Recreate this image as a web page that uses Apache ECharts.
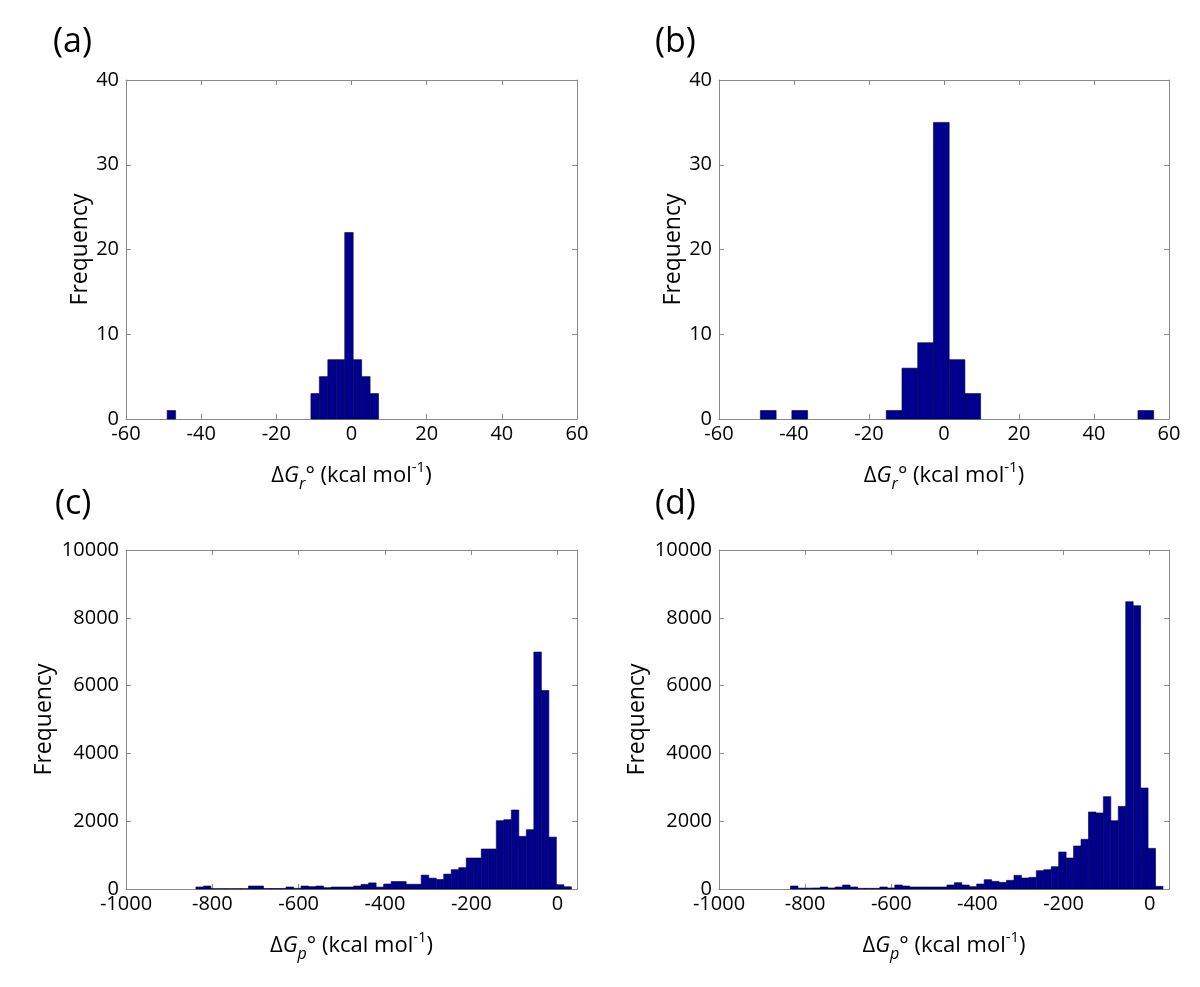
<!DOCTYPE html>
<html>
<head>
<meta charset="utf-8">
<script src="https://cdn.jsdelivr.net/npm/echarts@6/dist/echarts.min.js"></script>
<style>
html,body{margin:0;padding:0;background:#fff;}
#chart{width:1200px;height:987px;}
</style>
</head>
<body>
<div id="chart"></div>
<script>
// ---------- data ----------
// panel (a): ΔGr° histogram, 25 bins
const binStartA = -49.05, binWidthA = 2.25;
const countsA = [1,0,0,0,0,0,0,0,0,0,0,0,0,0,0,0,0,3,5,7,7,22,7,5,3];
// panel (b): ΔGr° histogram, 25 bins
const binStartB = -48.96, binWidthB = 4.195;
const countsB = [1,0,1,0,0,0,0,0,1,6,9,35,7,3,0,0,0,0,0,0,0,0,0,0,1];
// panel (c): ΔGp° histogram, 50 bins
const binStartC = -838, binWidthC = 17.4;
const countsC = [59,88,10,10,10,10,10,88,88,15,15,15,59,20,88,69,88,40,59,59,
                 59,88,137,180,55,147,220,220,140,140,410,320,280,440,570,630,914,914,1180,1180,
                 2015,2045,2330,1553,1750,6990,5858,1530,125,66];
// panel (d): ΔGp° histogram, 50 bins
const binStartD = -834, binWidthD = 17.3;
const countsD = [88,25,25,30,59,30,59,118,59,20,20,20,59,30,118,88,59,59,59,59,
                 59,118,186,118,69,147,275,226,196,255,403,324,344,540,570,658,1091,914,1268,1465,
                 2271,2242,2723,2015,2438,8475,8357,2979,1199,79];

const xTicksR = [-60,-40,-20,0,20,40,60];
const yTicksR = [0,10,20,30,40];
const xTicksP = [-1000,-800,-600,-400,-200,0];
const yTicksP = [0,2000,4000,6000,8000,10000];
const panelLabels = ['(a)','(b)','(c)','(d)'];
const yName = 'Frequency';

// ---------- styling ----------
const FONT = '"Open Sans", "DejaVu Sans", sans-serif';
const AXIS_GRAY = '#8a8a8a';
const BAR_FILL = '#00008f';
const BAR_EDGE = '#00003a';

function bins(start, width, counts){
  return counts.map((c,i)=>[start + width*i, start + width*(i+1), c]);
}

const grids = [
  {left:126, top:80, width:451, height:339},
  {left:719, top:80, width:450, height:339},
  {left:126, top:550, width:451, height:339},
  {left:719, top:550, width:450, height:339}
];

function xName(sub){
  return '{d|Δ}{g|G}{s|' + sub + '}{t|° (kcal mol}{p|-1}{t|)}';
}
const xRich = {
  d:{fontSize:22, fontFamily:FONT, color:'#000'},
  g:{fontSize:22, fontFamily:FONT, fontStyle:'italic', color:'#000'},
  s:{fontSize:16, fontFamily:FONT, fontStyle:'italic', color:'#000', padding:[17,0,0,0]},
  t:{fontSize:22, fontFamily:FONT, color:'#000'},
  p:{fontSize:15, fontFamily:FONT, color:'#000', padding:[0,0,15,0]}
};
const plain = v => String(v);

const xAxes = [], yAxes = [], series = [];
const cfg = [
  {min:-60, max:60, xt:xTicksR, ymax:40, yt:yTicksR, sub:'r', data:bins(binStartA,binWidthA,countsA), yGap:34},
  {min:-60, max:60, xt:xTicksR, ymax:40, yt:yTicksR, sub:'r', data:bins(binStartB,binWidthB,countsB), yGap:34},
  {min:-1000, max:45, xt:xTicksP, ymax:10000, yt:yTicksP, sub:'p', data:bins(binStartC,binWidthC,countsC), yGap:70},
  {min:-1000, max:45, xt:xTicksP, ymax:10000, yt:yTicksP, sub:'p', data:bins(binStartD,binWidthD,countsD), yGap:70}
];

cfg.forEach((c, i) => {
  const axisLine = {show:true, onZero:false, lineStyle:{color:AXIS_GRAY, width:1}};
  const tick = {show:true, inside:true, length:5, lineStyle:{color:AXIS_GRAY}, customValues:c.xt};
  xAxes.push({
    type:'value', gridIndex:i, min:c.min, max:c.max, position:'bottom',
    axisLine, axisTick:tick, splitLine:{show:false},
    axisLabel:{customValues:c.xt, formatter:plain, color:'#000', fontSize:20, fontFamily:FONT, margin:5},
    name:xName(c.sub), nameLocation:'middle', nameGap:40,
    nameTextStyle:{rich:xRich}
  });
  xAxes.push({
    type:'value', gridIndex:i, min:c.min, max:c.max, position:'top',
    axisLine, axisTick:{...tick}, axisLabel:{show:false}, splitLine:{show:false}
  });
  const ytick = {show:true, inside:true, length:5, lineStyle:{color:AXIS_GRAY}, customValues:c.yt};
  yAxes.push({
    type:'value', gridIndex:i, min:0, max:c.ymax, position:'left',
    axisLine, axisTick:ytick, splitLine:{show:false},
    axisLabel:{customValues:c.yt, formatter:plain, color:'#000', fontSize:20, fontFamily:FONT, margin:7},
    name:yName, nameLocation:'middle', nameGap:c.yGap, nameRotate:90,
    nameTextStyle:{color:'#000', fontSize:23, fontFamily:FONT}
  });
  yAxes.push({
    type:'value', gridIndex:i, min:0, max:c.ymax, position:'right',
    axisLine, axisTick:{...ytick}, axisLabel:{show:false}, splitLine:{show:false}
  });
  series.push({
    type:'custom', xAxisIndex:2*i, yAxisIndex:2*i,
    data:c.data,
    encode:{x:[0,1], y:2},
    renderItem:function(params, api){
      const v = api.value(2);
      if (!v) return null;
      const p0 = api.coord([api.value(0), v]);
      const p1 = api.coord([api.value(1), 0]);
      return {
        type:'rect',
        shape:{x:p0[0], y:p0[1], width:p1[0]-p0[0], height:p1[1]-p0[1]},
        style:{fill:BAR_FILL, stroke:BAR_EDGE, lineWidth:0.6}
      };
    },
    silent:true, animation:false
  });
});

const labelPos = [[48,20],[650,20],[50,482],[650,482]];
const titles = panelLabels.map((t,i)=>({
  text:t, left:labelPos[i][0], top:labelPos[i][1],
  textStyle:{fontSize:34, fontWeight:'normal', fontFamily:FONT, color:'#000'}
}));

const chart = echarts.init(document.getElementById('chart'));
chart.setOption({
  backgroundColor:'#fff',
  animation:false,
  title:titles,
  grid:grids,
  xAxis:xAxes,
  yAxis:yAxes,
  series:series
});
</script>
</body>
</html>
